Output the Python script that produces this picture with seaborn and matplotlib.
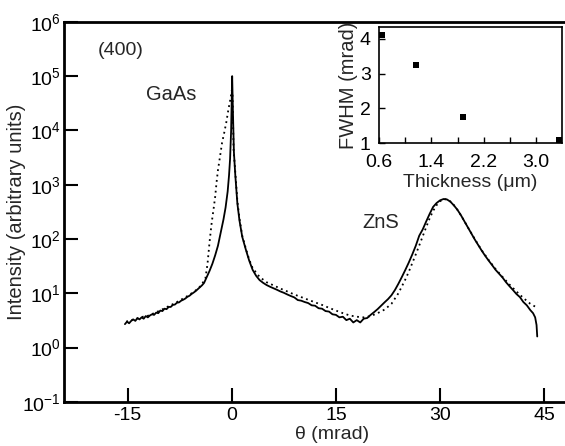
import matplotlib
matplotlib.use('Agg')
import matplotlib.pyplot as plt
from matplotlib.ticker import FixedLocator, NullLocator, LogFormatterSciNotation
import seaborn as sns
import pandas as pd

# solid curve (theta in mrad, intensity)
solid_theta = [-15.4, -15.1, -14.8, -14.5, -14.2, -13.9, -13.6, -13.3, -13.0, -12.7,
               -12.4, -12.1, -11.8, -11.5, -11.2, -10.9, -10.6, -10.3, -10.0, -9.7,
               -9.4, -9.1, -8.8, -8.5, -8.2, -7.9, -7.6, -7.3, -7.0, -6.7,
               -6.4, -6.1, -5.8, -5.5, -5.2, -4.9, -4.6, -4.3, -4.0, -3.6,
               -3.2, -2.8, -2.4, -2.0, -1.6, -1.2, -0.9, -0.6, -0.4, -0.25,
               -0.1, 0.05, 0.15, 0.3, 0.5, 0.8, 1.1, 1.5, 2.0, 2.5,
               3.0, 3.5, 4.0, 4.5, 5.0, 5.5, 6.0, 6.5, 7.0, 7.5,
               8.0, 8.5, 9.0, 9.5, 10.0, 10.5, 11.0, 11.5, 12.0, 12.5,
               13.0, 13.5, 14.0, 14.5, 15.0, 15.5, 16.0, 16.5, 17.0, 17.5,
               18.0, 18.5, 19.0, 19.5, 20.0, 20.5, 21.0, 21.5, 22.0, 22.5,
               23.0, 23.5, 24.0, 24.5, 25.0, 25.5, 26.0, 26.5, 27.0, 27.5,
               28.0, 28.5, 29.0, 29.5, 30.0, 30.5, 31.0, 31.5, 32.0, 32.5,
               33.0, 33.5, 34.0, 34.5, 35.0, 35.5, 36.0, 36.5, 37.0, 37.5,
               38.0, 38.5, 39.0, 39.5, 40.0, 40.5, 41.0, 41.5, 42.0, 42.5,
               43.0, 43.4, 43.7, 43.9, 44.0]
solid_int = [2.7, 3.0, 2.8, 3.1, 3.3, 3.1, 3.5, 3.3, 3.6, 3.4,
             3.8, 3.6, 3.9, 4.1, 4.0, 4.4, 4.3, 4.8, 4.7, 5.2,
             5.1, 5.6, 5.6, 6.1, 6.2, 6.7, 6.8, 7.3, 7.6, 8.0,
             8.6, 9.0, 9.7, 10.3, 11.0, 11.9, 12.8, 14.0, 15.5, 20,
             26, 35, 50, 75, 130, 230, 380, 750, 1500, 3000,
             10000, 100000, 25000, 4000, 1500, 450, 220, 110, 65, 40,
             27, 21, 17.5, 15.6, 14.2, 13.2, 12.4, 11.6, 10.8, 10.2,
             9.5, 8.9, 8.4, 7.5, 7.3, 6.9, 6.6, 6.0, 5.9, 5.3,
             5.2, 4.7, 4.6, 4.1, 4.0, 3.6, 3.7, 3.2, 3.4, 2.9,
             3.2, 2.9, 3.4, 3.5, 4.0, 4.5, 5.1, 5.9, 6.8, 7.8,
             9.2, 11.5, 15, 20, 27, 37, 52, 75, 115, 150,
             210, 290, 390, 460, 515, 545, 535, 485, 415, 345,
             275, 212, 162, 126, 98, 77, 61, 49, 40, 33,
             27, 23, 19.5, 16, 13.5, 11.5, 9.7, 8.5, 6.9, 6.0,
             4.9, 4.3, 3.6, 2.6, 1.6]

# dotted curve
dotted_theta = [-15.2, -14.6, -14.0, -13.4, -12.8, -12.2, -11.6, -11.0, -10.4, -9.8,
                -9.2, -8.6, -8.0, -7.4, -6.8, -6.2, -5.6, -5.0, -4.4, -3.8,
                -3.5, -3.2, -2.9, -2.6, -2.4, -2.2, -2.0, -1.7, -1.4, -1.1,
                -0.8, -0.5, -0.2, 0.0, 0.1, 0.25, 0.5, 0.8, 1.1, 1.5,
                2.0, 2.5, 3.0, 4.0, 5.0, 6.0, 7.0, 8.0, 9.0, 10.0,
                11.0, 12.0, 13.0, 14.0, 15.0, 16.0, 17.0, 18.0, 19.0, 20.0,
                21.0, 22.0, 23.0, 24.0, 25.0, 25.5, 26.0, 26.5, 27.0, 27.5,
                28.0, 28.5, 29.0, 29.5, 30.0, 30.5, 31.0, 31.5, 32.0, 32.5,
                33.0, 34.0, 35.0, 36.0, 37.0, 38.0, 39.0, 40.0, 41.0, 42.0,
                43.0, 44.0]
dotted_int = [3.0, 3.2, 3.3, 3.5, 3.7, 3.8, 4.1, 4.4, 4.8, 5.2,
              5.7, 6.2, 6.8, 7.5, 8.3, 9.2, 10.4, 11.8, 14.0, 19,
              35, 90, 200, 380, 600, 1100, 1850, 3300, 6000, 9000,
              14000, 24000, 38000, 55000, 45000, 4500, 1700, 500, 240, 115,
              68, 42, 29, 20, 16, 14, 12.2, 10.8, 9.5, 8.5,
              7.6, 6.8, 6.1, 5.4, 4.8, 4.3, 3.9, 3.7, 3.6, 3.8,
              4.3, 5.0, 6.4, 10, 18, 25, 36, 52, 76, 112,
              165, 240, 330, 420, 495, 540, 540, 490, 420, 345,
              275, 165, 100, 62, 41, 28, 20, 14.5, 10.8, 8.2,
              6.4, 5.4]

y_ticks = [1e-1, 1e0, 1e1, 1e2, 1e3, 1e4, 1e5, 1e6]
x_ticks = [-15, 0, 15, 30, 45]

# inset: FWHM vs layer thickness
thickness = [0.65, 1.17, 1.88, 3.35]
fwhm = [4.1, 3.25, 1.75, 1.1]

sns.set_style('ticks')
plt.rcParams['font.family'] = ['Liberation Sans', 'DejaVu Sans']
plt.rcParams['mathtext.fontset'] = 'custom'
plt.rcParams['mathtext.rm'] = 'Liberation Sans'
plt.rcParams['mathtext.it'] = 'Liberation Sans:italic'

fig = plt.figure(figsize=(5.65, 4.46), dpi=100)
ax = fig.add_axes([0.113, 0.099, 0.887, 0.852])

sdf = pd.DataFrame({'theta': solid_theta, 'I': solid_int})
ddf = pd.DataFrame({'theta': dotted_theta, 'I': dotted_int})
sns.lineplot(data=ddf, x='theta', y='I', ax=ax, color='black', lw=1.3,
             linestyle=(0, (1, 2)), sort=False, estimator=None)
sns.lineplot(data=sdf, x='theta', y='I', ax=ax, color='black', lw=1.3,
             sort=False, estimator=None)

ax.set_yscale('log')
ax.set_ylim(0.1, 1e6)
ax.set_xlim(-24.2, 48)
ax.yaxis.set_major_locator(FixedLocator(y_ticks))
ax.yaxis.set_major_formatter(LogFormatterSciNotation())
ax.yaxis.set_minor_locator(NullLocator())
ax.set_xticks(x_ticks)
ax.set_xticklabels([str(t) for t in x_ticks])
ax.tick_params(axis='both', direction='in', length=10, width=1.5, labelsize=14,
               colors='black')
ax.tick_params(axis='x', pad=4)
ax.tick_params(axis='y', pad=2)
for side in ['left', 'bottom', 'top']:
    ax.spines[side].set_linewidth(2)
    ax.spines[side].set_color('black')
ax.spines['right'].set_visible(False)
ax.set_xlabel('θ (mrad)', fontsize=14)
ax.xaxis.set_label_coords(0.535, -0.064)
ax.set_ylabel('Intensity (arbitrary units)', fontsize=14.5)
ax.yaxis.set_label_coords(-0.076, 0.5)

ax.text(-16.0, 3e5, '(400)', fontsize=14, ha='center', va='center')
ax.text(-8.7, 4.5e4, 'GaAs', fontsize=14.5, ha='center', va='center')
ax.text(21.4, 200, 'ZnS', fontsize=14.5, ha='center', va='center')

# inset
ins = fig.add_axes([0.671, 0.679, 0.324, 0.26])
sns.scatterplot(x=thickness, y=fwhm, ax=ins, color='black', marker='s', s=24,
                edgecolor='black', linewidth=0)
ins.set_xlim(0.6, 3.4)
ins.set_ylim(1, 4.33)
ins.xaxis.set_major_locator(FixedLocator([0.6, 1.4, 2.2, 3.0]))
ins.xaxis.set_minor_locator(FixedLocator([1.0, 1.8, 2.6]))
ins.set_xticklabels(['0.6', '1.4', '2.2', '3.0'])
ins.set_yticks([1, 2, 3, 4])
ins.tick_params(axis='both', which='both', direction='in', length=4, width=1,
                labelsize=14, colors='black')
ins.tick_params(axis='x', pad=8)
ins.tick_params(axis='y', pad=6)
for side in ins.spines:
    ins.spines[side].set_linewidth(1.2)
    ins.spines[side].set_color('black')
ins.set_xlabel('Thickness (μm)', fontsize=14, labelpad=2)
ins.set_ylabel('FWHM (mrad)', fontsize=14.5, labelpad=1)

fig.savefig('out.png', dpi=100)
